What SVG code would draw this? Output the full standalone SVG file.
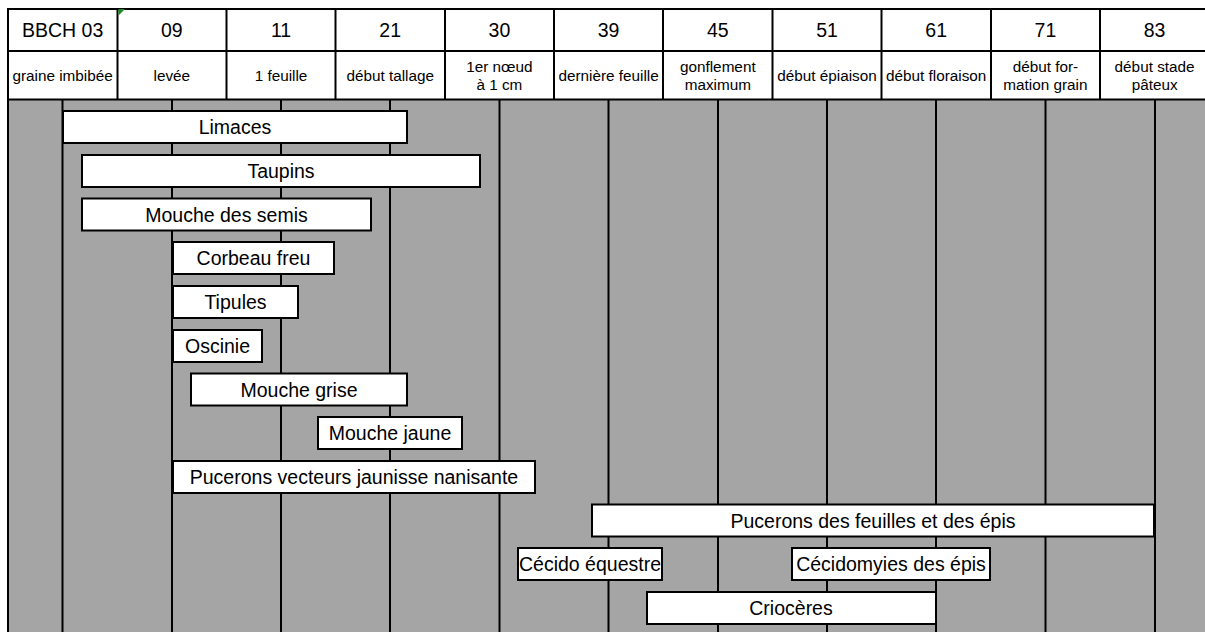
<svg xmlns="http://www.w3.org/2000/svg" width="1205" height="632" viewBox="0 0 1205 632">
<style>
  .ln { stroke: #000; stroke-width: 2; fill: none; }
  .num { font-family: "Liberation Sans", Arial, sans-serif; font-size: 19.5px; fill: #000; text-anchor: middle; }
  .lbl { font-family: "Liberation Sans", Arial, sans-serif; font-size: 15.3px; fill: #000; text-anchor: middle; }
  .bar rect { fill: #fff; stroke: #000; stroke-width: 2; }
  .bar text { font-family: "Liberation Sans", Arial, sans-serif; font-size: 19.5px; fill: #000; text-anchor: middle; }
</style>
<rect x="0" y="0" width="1205" height="632" fill="#fff"/>
<rect x="8" y="100" width="1197" height="532" fill="#a5a5a5"/>

<g id="grid">
  <line class="ln" x1="7" y1="9" x2="1205" y2="9"/>
  <line class="ln" x1="7" y1="51" x2="1205" y2="51"/>
  <line class="ln" x1="7" y1="99.5" x2="1205" y2="99.5"/>
  <line class="ln" x1="8" y1="8" x2="8" y2="632"/>
  <line class="ln" x1="117.5" y1="8" x2="117.5" y2="100"/>
  <line class="ln" x1="226.5" y1="8" x2="226.5" y2="100"/>
  <line class="ln" x1="335.5" y1="8" x2="335.5" y2="100"/>
  <line class="ln" x1="445" y1="8" x2="445" y2="100"/>
  <line class="ln" x1="554" y1="8" x2="554" y2="100"/>
  <line class="ln" x1="663" y1="8" x2="663" y2="100"/>
  <line class="ln" x1="772.5" y1="8" x2="772.5" y2="100"/>
  <line class="ln" x1="881.5" y1="8" x2="881.5" y2="100"/>
  <line class="ln" x1="991" y1="8" x2="991" y2="100"/>
  <line class="ln" x1="1100" y1="8" x2="1100" y2="100"/>
  <line class="ln" x1="62.5" y1="100" x2="62.5" y2="632"/>
  <line class="ln" x1="172" y1="100" x2="172" y2="632"/>
  <line class="ln" x1="281" y1="100" x2="281" y2="632"/>
  <line class="ln" x1="390" y1="100" x2="390" y2="632"/>
  <line class="ln" x1="499.5" y1="100" x2="499.5" y2="632"/>
  <line class="ln" x1="608.5" y1="100" x2="608.5" y2="632"/>
  <line class="ln" x1="718" y1="100" x2="718" y2="632"/>
  <line class="ln" x1="827" y1="100" x2="827" y2="632"/>
  <line class="ln" x1="936" y1="100" x2="936" y2="632"/>
  <line class="ln" x1="1045.5" y1="100" x2="1045.5" y2="632"/>
  <line class="ln" x1="1155" y1="100" x2="1155" y2="632"/>
  <polygon points="118.5,9 125,9 118.5,15.5" fill="#1a8a1a"/>
</g>

<g id="header">
  <text class="num" x="62.6" y="37">BBCH 03</text>
  <text class="num" x="171.8" y="37">09</text>
  <text class="num" x="281" y="37">11</text>
  <text class="num" x="390.2" y="37">21</text>
  <text class="num" x="499.4" y="37">30</text>
  <text class="num" x="608.6" y="37">39</text>
  <text class="num" x="717.8" y="37">45</text>
  <text class="num" x="827" y="37">51</text>
  <text class="num" x="936.2" y="37">61</text>
  <text class="num" x="1045.4" y="37">71</text>
  <text class="num" x="1154.6" y="37">83</text>

  <text class="lbl" x="62.6" y="81">graine imbibée</text>
  <text class="lbl" x="171.8" y="81">levée</text>
  <text class="lbl" x="281" y="81">1 feuille</text>
  <text class="lbl" x="390.2" y="81">début tallage</text>
  <text class="lbl" x="499.4" y="72">1er nœud</text>
  <text class="lbl" x="499.4" y="90">à 1 cm</text>
  <text class="lbl" x="608.6" y="81">dernière feuille</text>
  <text class="lbl" x="717.8" y="72">gonflement</text>
  <text class="lbl" x="717.8" y="90">maximum</text>
  <text class="lbl" x="827" y="81">début épiaison</text>
  <text class="lbl" x="936.2" y="81">début floraison</text>
  <text class="lbl" x="1045.4" y="72">début for-</text>
  <text class="lbl" x="1045.4" y="90">mation grain</text>
  <text class="lbl" x="1154.6" y="72">début stade</text>
  <text class="lbl" x="1154.6" y="90">pâteux</text>
</g>

<g id="limaces" class="bar"><rect x="63" y="111" width="344" height="32"/><text x="235" y="134">Limaces</text></g>
<g id="taupins" class="bar"><rect x="82" y="155" width="398" height="32"/><text x="281" y="178">Taupins</text></g>
<g id="mouche-semis" class="bar"><rect x="82" y="198.5" width="289" height="32"/><text x="226.5" y="221.5">Mouche des semis</text></g>
<g id="corbeau" class="bar"><rect x="173" y="242" width="161" height="32"/><text x="253.5" y="265">Corbeau freu</text></g>
<g id="tipules" class="bar"><rect x="173" y="286" width="125" height="32"/><text x="235.5" y="309">Tipules</text></g>
<g id="oscinie" class="bar"><rect x="173" y="330" width="89" height="32"/><text x="217.5" y="353">Oscinie</text></g>
<g id="mouche-grise" class="bar"><rect x="191" y="373.5" width="216" height="32"/><text x="299" y="396.5">Mouche grise</text></g>
<g id="mouche-jaune" class="bar"><rect x="318" y="417" width="144" height="32"/><text x="390" y="440">Mouche jaune</text></g>
<g id="pucerons-vecteurs" class="bar"><rect x="173" y="461" width="362" height="32"/><text x="354" y="484">Pucerons vecteurs jaunisse nanisante</text></g>
<g id="pucerons-feuilles" class="bar"><rect x="592" y="504.5" width="562" height="32"/><text x="873" y="527.5">Pucerons des feuilles et des épis</text></g>
<g id="cecido-equestre" class="bar"><rect x="518" y="548" width="144" height="32"/><text x="590" y="571">Cécido équestre</text></g>
<g id="cecidomyies" class="bar"><rect x="792" y="548" width="198" height="32"/><text x="891" y="571">Cécidomyies des épis</text></g>
<g id="crioceres" class="bar"><rect x="647" y="592" width="289" height="32"/><text x="791" y="615">Criocères</text></g>
</svg>
